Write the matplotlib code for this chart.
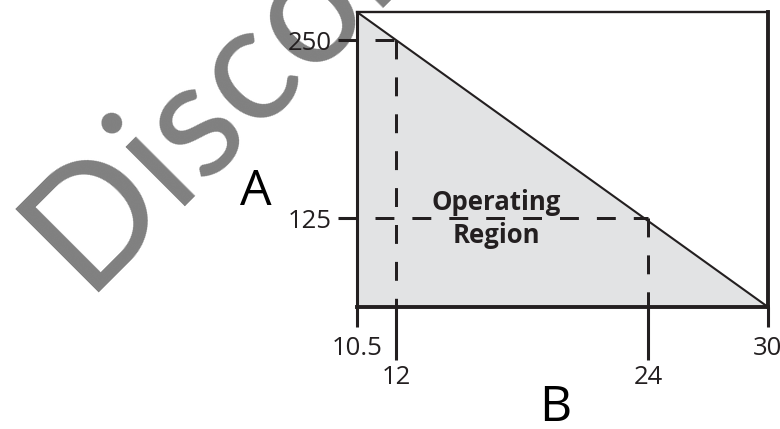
import numpy as np
import matplotlib.pyplot as plt

# operating limit: A falls linearly from the left edge to the right edge
b_edge = [10.5, 30]
a_edge = [269.7, 62.5]

# points marked with dashed guides
guide_b = [12, 24]
guide_a = [250, 125]

b_minor = [10.5, 30]
b_minor_labels = ['10.5', '30']
a_ticks = [125, 250]

ink = '#231f20'
fill = '#e2e3e4'

# the drawing is not to scale along B, so map B through a piecewise scale
b_knots = [10.5, 12, 24, 30]
b_pos = [0.0, 0.0961, 0.708, 1.0]


def fwd(x):
    return np.interp(x, b_knots, b_pos)


def inv(p):
    return np.interp(p, b_pos, b_knots)


fig = plt.figure(figsize=(7.8, 4.29), dpi=100)
ax = fig.add_axes([357 / 780, 1 - 307 / 429, 411 / 780, 295 / 429])
ax.set_xscale('function', functions=(fwd, inv))
ax.set_xlim(b_edge)
ax.set_ylim(a_edge[1], a_edge[0])
ax.set_facecolor('none')

# watermark
fig.text(84 / 780, 1 - 292 / 429, 'Discontinued', rotation=45,
         rotation_mode='anchor', ha='left', va='baseline',
         fontsize=118, family='Lato', color='#808080', zorder=-5)

ax.fill_between(b_edge, [a_edge[1], a_edge[1]], a_edge, color=fill, lw=0, zorder=1)
ax.plot(b_edge, a_edge, color=ink, lw=1.5, zorder=3)

dash_lw = 2.16
for b, a in zip(guide_b, guide_a):
    ax.plot([b, b], [a, a_edge[1]], color=ink, lw=dash_lw,
            linestyle=(0, (6.3, 6.0)), zorder=2, solid_capstyle='butt')
    ax.plot([b_edge[0], b], [a, a], color=ink, lw=dash_lw,
            linestyle=(6.3, (6.3, 6.0)), zorder=2)

for side, w in [('top', 1.7), ('left', 2.2), ('bottom', 2.8), ('right', 2.8)]:
    ax.spines[side].set_linewidth(w)
    ax.spines[side].set_color(ink)
    ax.spines[side].set_zorder(4)

tick_font = {'family': 'Open Sans', 'size': 18.5, 'color': ink}
ax.set_xticks(guide_b, labels=[str(v) for v in guide_b], **tick_font)
ax.set_xticks(b_minor, labels=b_minor_labels, minor=True, **tick_font)
ax.set_yticks(a_ticks, labels=[str(v) for v in a_ticks], **tick_font)
ax.tick_params(axis='x', which='major', length=38, width=2.2, pad=3.6, color=ink)
ax.tick_params(axis='x', which='minor', length=14.4, width=2.2, pad=6.5, color=ink)
ax.tick_params(axis='y', which='major', length=13.7, width=2.2, pad=4.3, color=ink)
ax.tick_params(axis='y', which='minor', length=0)

ax.set_xlabel('B', family=['Liberation Sans Narrow', 'Open Sans'], fontsize=36, color='black',
              ha='center', va='center')
ax.xaxis.set_label_coords((555 - 357) / 411, (307 - 408) / 295)
ax.set_ylabel('A', family=['Liberation Sans Narrow', 'Open Sans'], fontsize=36, color='black',
              rotation=0, ha='center', va='center')
ax.yaxis.set_label_coords((256 - 357) / 411, (307 - 192) / 295)

fig.text(496.5 / 780, 1 - 210 / 429, 'Operating', ha='center', va='baseline',
         family='Open Sans', weight='bold', fontsize=18.5, color=ink)
fig.text(496.5 / 780, 1 - 243 / 429, 'Region', ha='center', va='baseline',
         family='Open Sans', weight='bold', fontsize=18.5, color=ink)

fig.savefig('out.png', dpi=100)
